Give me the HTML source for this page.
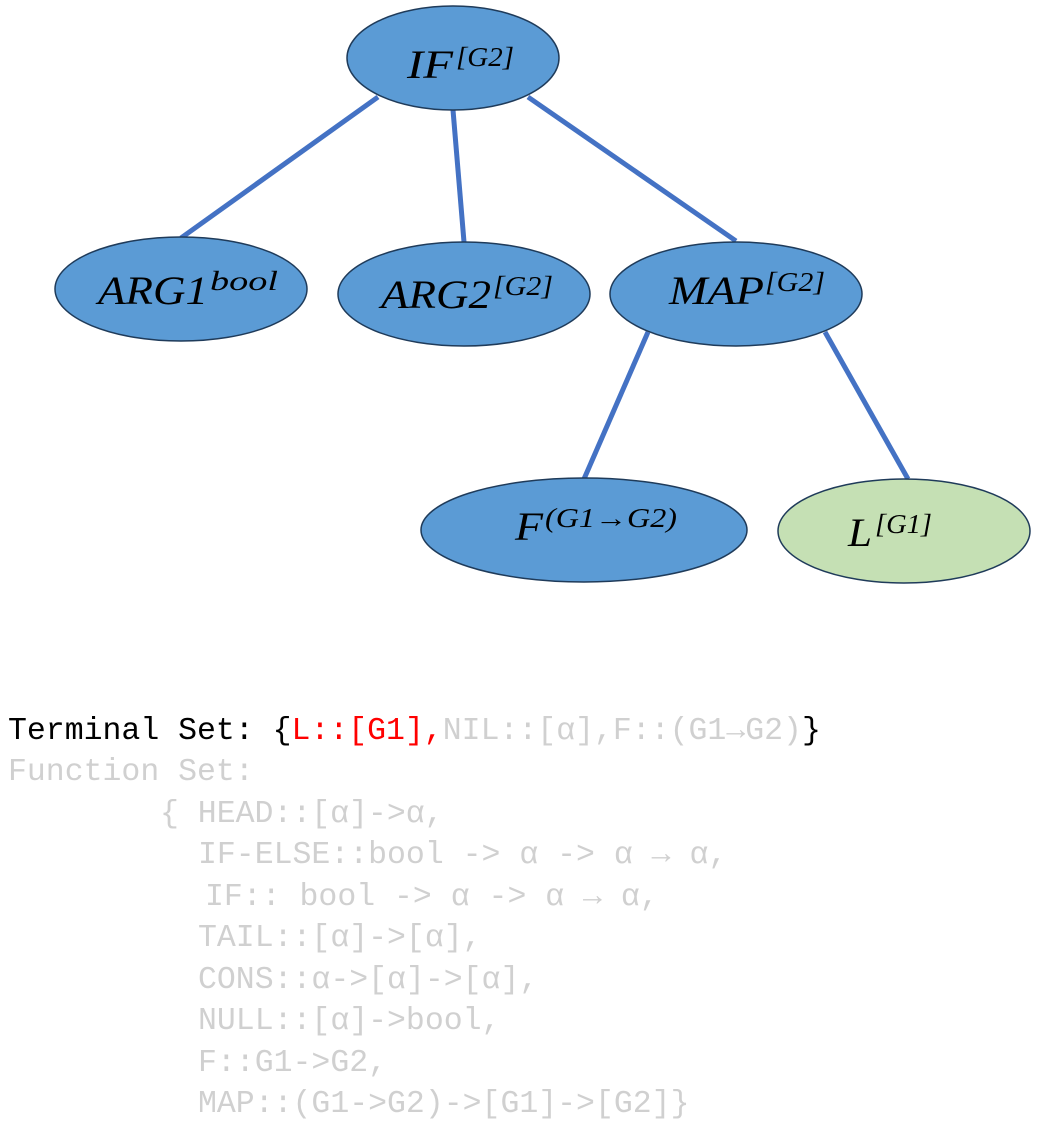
<!DOCTYPE html>
<html><head><meta charset="utf-8"><style>
body{margin:0;background:#fff;width:1042px;height:1125px;overflow:hidden}
svg{position:absolute;left:0;top:0}
.t{font-family:"Liberation Serif",serif;font-style:italic;font-size:40px;fill:#000}
.s{font-family:"Liberation Serif",serif;font-style:italic;font-size:27px;fill:#000}
.m{font-family:"Liberation Mono",monospace;font-size:31.5px;fill:#d0d0d0;white-space:pre}
</style></head><body>
<svg width="1042" height="1125" xmlns="http://www.w3.org/2000/svg">
<g stroke="#4472C4" stroke-width="5">
<line x1="378" y1="97" x2="181" y2="238"/>
<line x1="453" y1="110" x2="464" y2="242"/>
<line x1="528" y1="97" x2="736" y2="241"/>
<line x1="648" y1="332" x2="584" y2="479"/>
<line x1="825" y1="332" x2="908" y2="479"/>
</g>
<g stroke="#1F3B5A" stroke-width="1.5">
<ellipse cx="453" cy="58" rx="106" ry="52" fill="#5B9BD5"/>
<ellipse cx="181" cy="289" rx="126" ry="52" fill="#5B9BD5"/>
<ellipse cx="464" cy="294" rx="126" ry="52" fill="#5B9BD5"/>
<ellipse cx="736" cy="294" rx="126" ry="52" fill="#5B9BD5"/>
<ellipse cx="584" cy="530" rx="163" ry="52" fill="#5B9BD5"/>
<ellipse cx="904" cy="531" rx="126" ry="52" fill="#C5E0B4"/>
</g>
<text class="t" x="407" y="78" textLength="46" lengthAdjust="spacingAndGlyphs">IF</text>
<text class="s" x="456" y="66" textLength="58" lengthAdjust="spacingAndGlyphs">[G2]</text>
<text class="t" x="98" y="304" textLength="110" lengthAdjust="spacingAndGlyphs">ARG1</text>
<text class="s" x="210" y="290" textLength="68" lengthAdjust="spacingAndGlyphs">bool</text>
<text class="t" x="381" y="308" textLength="110" lengthAdjust="spacingAndGlyphs">ARG2</text>
<text class="s" x="493" y="295" textLength="60" lengthAdjust="spacingAndGlyphs">[G2]</text>
<text class="t" x="669" y="304" textLength="95" lengthAdjust="spacingAndGlyphs">MAP</text>
<text class="s" x="765" y="291" textLength="60" lengthAdjust="spacingAndGlyphs">[G2]</text>
<text class="t" x="515" y="540" textLength="28" lengthAdjust="spacingAndGlyphs">F</text>
<text class="s" x="545" y="527" textLength="132" lengthAdjust="spacingAndGlyphs">(G1→G2)</text>
<text class="t" x="848" y="546" textLength="24" lengthAdjust="spacingAndGlyphs">L</text>
<text class="s" x="875" y="533" textLength="57" lengthAdjust="spacingAndGlyphs">[G1]</text>
<text class="m" x="8" y="739"><tspan fill="#000">Terminal Set: {</tspan><tspan fill="#ff0000">L::[G1],</tspan>NIL::[α],F::(G1→G2)<tspan fill="#000">}</tspan></text>
<text class="m" x="8" y="780">Function Set:</text>
<text class="m" x="160" y="822">{ HEAD::[α]-&gt;α,</text>
<text class="m" x="198" y="863">IF-ELSE::bool -&gt; α -&gt; α → α,</text>
<text class="m" x="205" y="905">IF:: bool -&gt; α -&gt; α → α,</text>
<text class="m" x="198" y="946">TAIL::[α]-&gt;[α],</text>
<text class="m" x="198" y="988">CONS::α-&gt;[α]-&gt;[α],</text>
<text class="m" x="198" y="1029">NULL::[α]-&gt;bool,</text>
<text class="m" x="198" y="1071">F::G1-&gt;G2,</text>
<text class="m" x="198" y="1112">MAP::(G1-&gt;G2)-&gt;[G1]-&gt;[G2]}</text>
</svg>
</body></html>
